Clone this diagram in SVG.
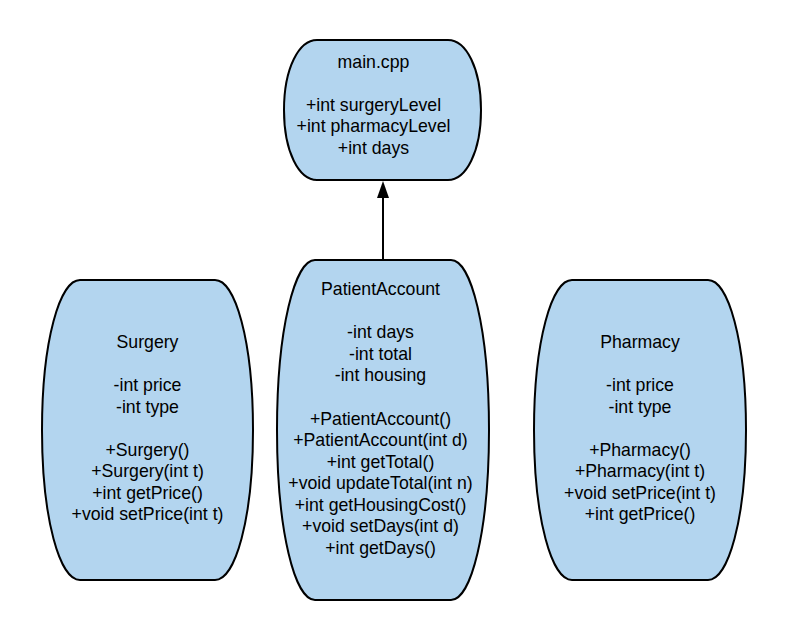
<svg xmlns="http://www.w3.org/2000/svg" width="800" height="640" viewBox="0 0 800 640">
<style>
.node{fill:#b3d5ef;stroke:#000;stroke-width:2}
text{font-family:"Liberation Sans",Arial,sans-serif;font-size:17.7px;fill:#000;text-anchor:middle}
.edge{stroke:#000;stroke-width:2;fill:none}
</style>
<defs>
<marker id="arrow" markerUnits="userSpaceOnUse" markerWidth="17" markerHeight="12" refX="8" refY="6" orient="auto">
<path d="M0,0 L17,6 L0,12 Z" fill="#000"/>
</marker>
</defs>
<rect width="800" height="640" fill="#fff"/>
<g id="connectors">
<line class="edge" x1="383" y1="260" x2="383" y2="190" marker-end="url(#arrow)"/>
</g>
<g id="main-cpp">
<path class="node" d="M317,40 H448 C466,40 481,68 481,110 C481,152 466,180 448,180 H317 C299,180 284,152 284,110 C284,68 299,40 317,40 Z"/>
<text x="373.5" y="67.5">main.cpp</text>
<text x="373.5" y="110.5">+int surgeryLevel</text>
<text x="373.5" y="132">+int pharmacyLevel</text>
<text x="373.5" y="153.5">+int days</text>
</g>
<g id="surgery">
<path class="node" d="M80,280 H215 C235,280 253,340 253,430 C253,520 235,580 215,580 H80 C60,580 42,520 42,430 C42,340 60,280 80,280 Z"/>
<text x="147.5" y="348">Surgery</text>
<text x="147.5" y="391">-int price</text>
<text x="147.5" y="412.5">-int type</text>
<text x="147.5" y="455.5">+Surgery()</text>
<text x="147.5" y="477">+Surgery(int t)</text>
<text x="147.5" y="498.5">+int getPrice()</text>
<text x="147.5" y="520">+void setPrice(int t)</text>
</g>
<g id="patient-account">
<path class="node" d="M315,260 H451 C471,260 489,328 489,430 C489,532 471,600 451,600 H315 C295,600 277,532 277,430 C277,328 295,260 315,260 Z"/>
<text x="380.5" y="295">PatientAccount</text>
<text x="380.5" y="338.2">-int days</text>
<text x="380.5" y="359.7">-int total</text>
<text x="380.5" y="381.3">-int housing</text>
<text x="380.5" y="424.5">+PatientAccount()</text>
<text x="380.5" y="446">+PatientAccount(int d)</text>
<text x="380.5" y="467.6">+int getTotal()</text>
<text x="380.5" y="489.2">+void updateTotal(int n)</text>
<text x="380.5" y="510.8">+int getHousingCost()</text>
<text x="380.5" y="532.4">+void setDays(int d)</text>
<text x="380.5" y="554">+int getDays()</text>
</g>
<g id="pharmacy">
<path class="node" d="M572,280 H708 C728,280 746,340 746,430 C746,520 728,580 708,580 H572 C552,580 534,520 534,430 C534,340 552,280 572,280 Z"/>
<text x="640" y="348">Pharmacy</text>
<text x="640" y="391">-int price</text>
<text x="640" y="412.5">-int type</text>
<text x="640" y="455.5">+Pharmacy()</text>
<text x="640" y="477">+Pharmacy(int t)</text>
<text x="640" y="498.5">+void setPrice(int t)</text>
<text x="640" y="520">+int getPrice()</text>
</g>
</svg>
